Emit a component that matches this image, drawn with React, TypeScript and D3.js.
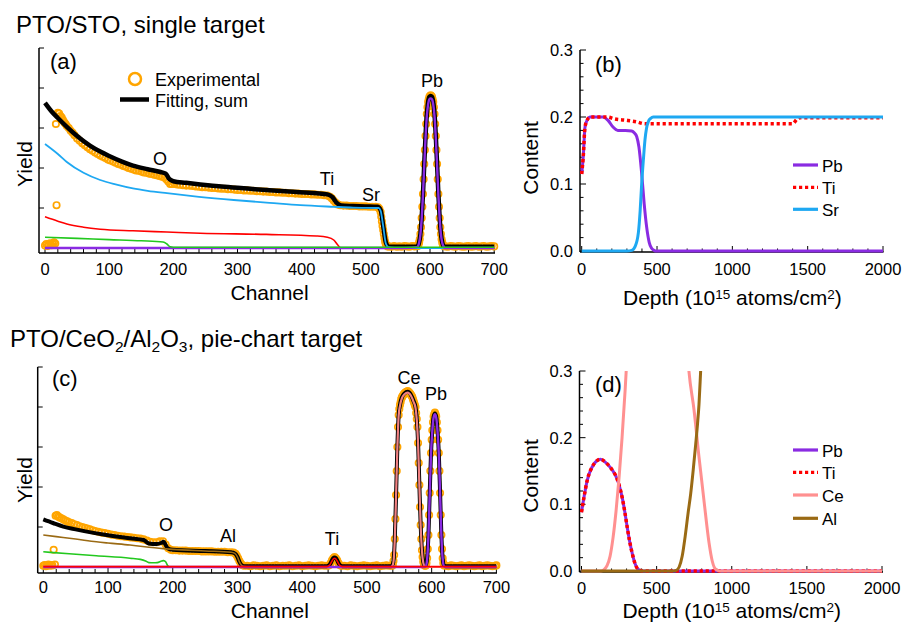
import React from "react";
import * as d3 from "d3";

type P = [number, number];

const FONT = "'Liberation Sans', Arial, Helvetica, sans-serif";
const COL = {
  exp: "#FFA500",
  sum: "#000000",
  sr: "#1EA8F2",
  ti: "#FF0000",
  o: "#22C81E",
  pb: "#8A2BE2",
  ce: "#F08080",
  ceD: "#FF9090",
  al: "#9A6A14",
};

// ---------------- Panel (a): PTO/STO spectrum ----------------
const aTicksMajor = [0, 100, 200, 300, 400, 500, 600, 700];
const aSum: P[] = [
  [0, 3.63], [10, 3.42], [20, 3.25], [34, 3.03], [50, 2.8], [70, 2.56], [86, 2.41], [100, 2.3], [120, 2.16],
  [137, 2.06], [160, 1.97], [180, 1.9], [188, 1.86], [194, 1.72], [200, 1.67], [220, 1.63], [242, 1.59],
  [280, 1.53], [320, 1.48], [345, 1.45], [380, 1.41], [423, 1.37], [440, 1.34], [448, 1.27], [455, 1.12],
  [462, 1.06], [480, 1.05], [500, 1.04], [518, 1.03], [523, 0.95], [527, 0.55], [531, 0.15], [535, 0.04],
  [545, 0.03], [579, 0.03], [581, 0.05], [583, 0.14], [585, 0.35], [587, 0.75], [589, 1.35], [591, 2.1],
  [593, 2.8], [595, 3.35], [597, 3.65], [599, 3.78], [601, 3.8], [603, 3.78], [605, 3.65], [607, 3.35],
  [609, 2.8], [611, 2.1], [613, 1.35], [615, 0.75], [617, 0.35], [619, 0.14], [621, 0.05], [623, 0.03], [700, 0.03],
];
const aSr: P[] = [
  [0, 2.6], [20, 2.35], [34, 2.15], [60, 1.88], [86, 1.7], [110, 1.59], [137, 1.49], [160, 1.43], [190, 1.37],
  [240, 1.28], [294, 1.2], [350, 1.13], [398, 1.07], [450, 1.03], [480, 1.01], [520, 1.0], [523, 0.93],
  [527, 0.55], [531, 0.12], [535, 0.02], [545, 0], [700, 0],
];
const aTi: P[] = [
  [0, 0.78], [20, 0.67], [34, 0.6], [60, 0.52], [86, 0.47], [137, 0.43], [190, 0.4], [242, 0.37], [345, 0.34],
  [423, 0.3], [440, 0.27], [450, 0.2], [456, 0.08], [460, 0.01], [462, 0],
];
const aO: P[] = [
  [0, 0.27], [50, 0.24], [100, 0.21], [150, 0.18], [184, 0.15], [190, 0.1], [195, 0.03], [200, 0.02], [700, 0.02],
];
const aPb: P[] = [
  [0, 0], [560, 0], [579, 0.02], [581, 0.04], [583, 0.13], [585, 0.34], [587, 0.73], [589, 1.32], [591, 2.06],
  [593, 2.75], [595, 3.29], [597, 3.59], [599, 3.72], [601, 3.74], [603, 3.72], [605, 3.59], [607, 3.29],
  [609, 2.75], [611, 2.06], [613, 1.32], [615, 0.73], [617, 0.34], [619, 0.13], [621, 0.04], [623, 0], [700, 0],
];
const aExp: P[] = [
  [0, 0.06], [2, 0.1], [4, 0.05], [6, 0.09], [8, 0.12], [10, 0.07], [12, 0.1], [14, 0.14], [16, 0.11], [17, 3.1], [18, 1.07],
  [20, 3.38], [22, 3.36], [24, 3.3], [26, 3.26], [28, 3.2], [30, 3.14], [32, 3.1], [34, 3.05], [37, 3.0], [40, 2.93],
  [43, 2.88], [46, 2.82], [50, 2.74], [54, 2.68], [58, 2.62], [62, 2.57], [66, 2.52], [70, 2.47], [74, 2.43], [78, 2.39],
  [82, 2.35], [86, 2.31], [90, 2.28], [94, 2.25], [98, 2.21], [102, 2.19], [106, 2.16], [110, 2.13], [114, 2.1],
  [118, 2.08], [122, 2.05], [126, 2.03], [130, 2.0], [134, 1.98], [138, 1.96], [142, 1.94], [146, 1.93], [150, 1.91],
  [154, 1.89], [158, 1.88], [162, 1.86], [166, 1.85], [170, 1.83], [174, 1.82], [178, 1.8], [182, 1.78], [186, 1.76],
  [189, 1.72], [192, 1.66], [195, 1.6], [198, 1.6], [202, 1.6], [206, 1.59], [210, 1.58], [215, 1.57], [220, 1.56],
  [225, 1.56], [230, 1.55], [235, 1.54], [240, 1.53], [245, 1.52], [250, 1.52], [255, 1.51], [260, 1.5], [265, 1.5],
  [270, 1.49], [275, 1.48], [280, 1.48], [285, 1.47], [290, 1.47], [295, 1.46], [300, 1.45], [305, 1.45], [310, 1.44],
  [315, 1.44], [320, 1.43], [325, 1.43], [330, 1.42], [335, 1.42], [340, 1.41], [345, 1.41], [350, 1.4], [355, 1.4],
  [360, 1.39], [365, 1.39], [370, 1.38], [375, 1.38], [380, 1.37], [385, 1.37], [390, 1.36], [395, 1.36], [400, 1.35],
  [405, 1.35], [410, 1.35], [415, 1.34], [420, 1.34], [425, 1.33], [430, 1.33], [435, 1.32], [440, 1.31], [444, 1.28],
  [447, 1.24], [450, 1.18], [453, 1.13], [456, 1.09], [460, 1.07], [465, 1.06], [470, 1.06], [475, 1.05], [480, 1.05],
  [485, 1.05], [490, 1.04], [495, 1.04], [500, 1.04], [505, 1.03], [510, 1.03], [515, 1.03], [519, 1.02], [521, 0.98],
  [523, 0.9], [524, 0.78], [525, 0.66], [526, 0.55], [527, 0.45], [528, 0.35], [529, 0.25], [530, 0.16], [531, 0.1],
  [532, 0.06], [534, 0.04], [536, 0.04], [540, 0.03], [544, 0.05], [548, 0.03], [552, 0.04], [556, 0.03], [560, 0.05],
  [564, 0.04], [568, 0.03], [572, 0.05], [576, 0.04], [580, 0.05],
  [581, 0.05], [582, 0.08], [583, 0.14], [584, 0.22], [585, 0.35], [586, 0.52], [587, 0.75], [588, 1.03], [589, 1.35],
  [590, 1.72], [591, 2.1], [592, 2.45], [593, 2.8], [594, 3.1], [595, 3.35], [596, 3.52], [597, 3.65], [598, 3.72],
  [599, 3.78], [600, 3.8], [601, 3.82], [602, 3.8], [603, 3.78], [604, 3.72], [605, 3.65], [606, 3.52], [607, 3.35],
  [608, 3.1], [609, 2.8], [610, 2.45], [611, 2.1], [612, 1.72], [613, 1.35], [614, 1.03], [615, 0.75], [616, 0.52],
  [617, 0.35], [618, 0.22], [619, 0.14], [620, 0.08], [621, 0.05],
  [624, 0.04], [628, 0.03], [632, 0.05], [636, 0.04], [640, 0.03], [644, 0.05], [648, 0.04], [652, 0.03], [656, 0.04],
  [660, 0.05], [664, 0.03], [668, 0.04], [672, 0.05], [676, 0.03], [680, 0.04], [684, 0.05], [688, 0.03], [692, 0.04],
  [696, 0.05], [700, 0.04],
];

// ---------------- Panel (b): PTO/STO depth profile ----------------
const depthTicksMajor = [0, 500, 1000, 1500, 2000];
const contentTicksMajor = [0, 0.1, 0.2, 0.3];
const bPb: P[] = [
  [0, 0.115], [10, 0.14], [22, 0.185], [40, 0.197], [55, 0.2], [100, 0.2], [142, 0.2], [175, 0.195], [208, 0.185],
  [240, 0.18], [290, 0.18], [332, 0.179], [350, 0.176], [365, 0.171], [380, 0.155], [398, 0.116], [415, 0.07],
  [431, 0.036], [448, 0.013], [464, 0.004], [480, 0.001], [497, 0], [2000, 0],
];
const bTi: P[] = [
  [0, 0.115], [10, 0.14], [22, 0.185], [40, 0.197], [55, 0.2], [100, 0.2], [170, 0.2], [220, 0.197], [300, 0.195],
  [360, 0.193], [420, 0.19], [450, 0.19], [1400, 0.19], [1430, 0.197], [1450, 0.199], [2000, 0.199],
];
const bSr: P[] = [
  [0, 0], [300, 0], [332, 0.001], [355, 0.007], [376, 0.027], [388, 0.06], [398, 0.1], [410, 0.138], [420, 0.166],
  [430, 0.183], [442, 0.193], [458, 0.198], [475, 0.2], [2000, 0.2],
];

// ---------------- Panel (c): PTO/CeO2/Al2O3 spectrum ----------------
const cSum: P[] = [
  [0, 1.19], [15, 1.1], [31, 1.01], [50, 0.94], [82, 0.84], [110, 0.77], [134, 0.72], [155, 0.675], [159, 0.63],
  [163, 0.59], [175, 0.575], [182, 0.6], [186, 0.63], [189, 0.55], [192, 0.47], [200, 0.43], [250, 0.4], [290, 0.37],
  [296, 0.34], [300, 0.25], [303, 0.13], [306, 0.05], [310, 0.02], [438, 0.02], [440, 0.03], [442, 0.05], [444, 0.1],
  [446, 0.17], [448, 0.22], [450, 0.24], [452, 0.22], [454, 0.17], [456, 0.1], [458, 0.05], [460, 0.03], [462, 0.02],
  [537, 0.02], [539, 0.04], [541, 0.15], [543, 0.7], [545, 1.8], [547, 3.0], [549, 3.8], [551, 4.05], [554, 4.24],
  [558, 4.34], [563, 4.38], [568, 4.3], [572, 4.15], [575, 4.0], [577, 3.7], [579, 3.1], [581, 2.05], [583, 1.05],
  [585, 0.42], [587, 0.13], [589, 0.04], [591, 0.04], [593, 0.22], [595, 0.8], [597, 1.85], [599, 2.85], [601, 3.42],
  [603, 3.76], [605, 3.84], [607, 3.76], [609, 3.42], [611, 2.85], [613, 1.85], [615, 0.8], [617, 0.22], [619, 0.04],
  [622, 0.02], [700, 0.02],
];
const cAl: P[] = [
  [0, 0.8], [20, 0.76], [50, 0.7], [82, 0.63], [100, 0.6], [134, 0.55], [150, 0.52], [185, 0.46], [200, 0.44],
  [250, 0.4], [290, 0.37], [296, 0.34], [300, 0.25], [303, 0.13], [306, 0.05], [310, 0.01], [320, 0], [700, 0],
];
const cO: P[] = [
  [0, 0.38], [40, 0.33], [82, 0.28], [134, 0.22], [150, 0.19], [158, 0.15], [163, 0.11], [170, 0.105], [176, 0.11],
  [183, 0.15], [186, 0.16], [189, 0.13], [192, 0.04], [195, 0.005], [200, 0],
];
const cTi: P[] = [
  [0, 0.01], [438, 0.01], [440, 0.02], [442, 0.04], [444, 0.09], [446, 0.15], [448, 0.2], [450, 0.22], [452, 0.2],
  [454, 0.15], [456, 0.09], [458, 0.04], [460, 0.02], [462, 0.01], [700, 0.01],
];
const cCe: P[] = [
  [0, 0], [537, 0], [539, 0.02], [541, 0.13], [543, 0.68], [545, 1.78], [547, 2.98], [549, 3.78], [551, 4.03],
  [554, 4.22], [558, 4.32], [563, 4.36], [568, 4.28], [572, 4.13], [575, 3.98], [577, 3.68], [579, 3.08], [581, 2.03],
  [583, 1.03], [585, 0.4], [587, 0.11], [589, 0.02], [591, 0], [700, 0],
];
const cPb: P[] = [
  [0, 0], [589, 0], [591, 0.02], [593, 0.2], [595, 0.78], [597, 1.83], [599, 2.83], [601, 3.4], [603, 3.74],
  [605, 3.82], [607, 3.74], [609, 3.4], [611, 2.83], [613, 1.83], [615, 0.78], [617, 0.2], [619, 0.02], [621, 0], [700, 0],
];
const cExp: P[] = [
  [0, 0.03], [2, 0.05], [4, 0.02], [6, 0.04], [8, 0.06], [10, 0.03], [12, 0.05], [14, 0.04], [16, 0.43], [18, 0.06],
  [19, 1.28], [21, 1.3], [23, 1.26], [25, 1.24], [28, 1.22], [31, 1.19], [34, 1.16], [37, 1.14], [40, 1.12], [44, 1.1],
  [48, 1.07], [52, 1.05], [56, 1.02], [60, 1.0], [64, 0.98], [68, 0.96], [72, 0.94], [76, 0.92], [80, 0.9], [85, 0.88],
  [90, 0.86], [95, 0.85], [100, 0.83], [105, 0.81], [110, 0.8], [115, 0.78], [120, 0.77], [125, 0.76], [130, 0.75],
  [135, 0.74], [140, 0.73], [145, 0.72], [150, 0.71], [155, 0.69], [160, 0.66], [165, 0.63], [170, 0.62], [175, 0.62],
  [180, 0.64], [185, 0.64], [189, 0.56], [193, 0.47], [197, 0.43], [200, 0.42], [205, 0.42], [210, 0.41], [215, 0.41],
  [220, 0.41], [225, 0.4], [230, 0.4], [235, 0.4], [240, 0.4], [245, 0.39], [250, 0.39], [255, 0.39], [260, 0.39],
  [265, 0.38], [270, 0.38], [275, 0.38], [280, 0.38], [285, 0.37], [290, 0.37], [294, 0.36], [297, 0.33], [299, 0.28],
  [301, 0.22], [303, 0.15], [305, 0.09], [307, 0.05], [310, 0.03],
  [315, 0.03], [320, 0.02], [325, 0.04], [330, 0.03], [335, 0.02], [340, 0.03], [345, 0.04], [350, 0.02], [355, 0.03],
  [360, 0.04], [365, 0.02], [370, 0.03], [375, 0.03], [380, 0.04], [385, 0.02], [390, 0.03], [395, 0.04], [400, 0.02],
  [405, 0.03], [410, 0.04], [415, 0.03], [420, 0.02], [425, 0.03], [430, 0.04], [435, 0.03],
  [440, 0.03], [442, 0.05], [444, 0.1], [446, 0.17], [448, 0.22], [450, 0.25], [452, 0.22], [454, 0.17], [456, 0.1],
  [458, 0.05], [460, 0.03],
  [465, 0.03], [470, 0.02], [475, 0.04], [480, 0.03], [485, 0.02], [490, 0.03], [495, 0.04], [500, 0.03], [505, 0.02],
  [510, 0.03], [515, 0.04], [520, 0.02], [525, 0.03], [530, 0.04], [535, 0.03],
  [539, 0.03], [540, 0.05], [541, 0.15], [542, 0.3], [543, 0.7], [544, 1.2], [545, 1.8], [546, 2.4], [547, 3.0],
  [548, 3.5], [549, 3.8], [550, 3.95], [551, 4.05], [552, 4.12], [553, 4.2], [554, 4.24], [555, 4.27], [556, 4.3],
  [557, 4.32], [558, 4.34], [559, 4.35], [560, 4.37], [561, 4.38], [562, 4.38], [563, 4.4], [564, 4.38], [565, 4.37],
  [566, 4.35], [567, 4.33], [568, 4.3], [569, 4.28], [570, 4.25], [571, 4.2], [572, 4.15], [573, 4.1], [574, 4.05],
  [575, 4.0], [576, 3.85], [577, 3.7], [578, 3.5], [579, 3.1], [580, 2.6], [581, 2.05], [582, 1.5], [583, 1.05],
  [584, 0.7], [585, 0.42], [586, 0.25], [587, 0.13], [588, 0.06], [589, 0.04], [590, 0.03],
  [591, 0.04], [592, 0.1], [593, 0.22], [594, 0.45], [595, 0.8], [596, 1.3], [597, 1.85], [598, 2.4], [599, 2.85],
  [600, 3.18], [601, 3.42], [602, 3.62], [603, 3.76], [604, 3.82], [605, 3.86], [606, 3.82], [607, 3.76], [608, 3.62],
  [609, 3.42], [610, 3.18], [611, 2.85], [612, 2.4], [613, 1.85], [614, 1.3], [615, 0.8], [616, 0.45], [617, 0.22],
  [618, 0.1], [619, 0.04],
  [622, 0.03], [626, 0.02], [630, 0.04], [634, 0.03], [638, 0.02], [642, 0.03], [646, 0.04], [650, 0.02], [654, 0.03],
  [658, 0.04], [662, 0.03], [666, 0.02], [670, 0.03], [674, 0.04], [678, 0.02], [682, 0.03], [686, 0.04], [690, 0.03],
  [694, 0.02], [698, 0.03], [700, 0.04],
];

// ---------------- Panel (d): PTO/CeO2/Al2O3 depth profile ----------------
const dPb: P[] = [
  [0, 0.088], [20, 0.115], [38, 0.136], [71, 0.156], [100, 0.165], [127, 0.1675], [160, 0.163], [200, 0.153],
  [237, 0.138], [255, 0.125], [271, 0.11], [288, 0.089], [304, 0.066], [320, 0.045], [338, 0.026], [355, 0.012],
  [371, 0.004], [390, 0.001], [410, 0], [2000, 0],
];
const dTi: P[] = [
  [0, 0.088], [20, 0.115], [38, 0.136], [71, 0.156], [100, 0.165], [127, 0.1675], [160, 0.163], [200, 0.153],
  [237, 0.138], [255, 0.125], [271, 0.11], [288, 0.089], [304, 0.066], [320, 0.045], [338, 0.026], [355, 0.012],
  [371, 0.004], [390, 0.001], [410, 0], [2000, 0],
];
const dCe: P[] = [
  [0, 0], [130, 0], [150, 0.002], [170, 0.008], [190, 0.022], [210, 0.05], [230, 0.09], [250, 0.14], [270, 0.2],
  [290, 0.27], [305, 0.33], [330, 0.42], [400, 0.55], [520, 0.6], [640, 0.52], [690, 0.38], [715, 0.3], [749, 0.2415],
  [782, 0.171], [815, 0.106], [849, 0.042], [870, 0.015], [885, 0.005], [905, 0.001], [925, 0], [2000, 0],
];
const dAl: P[] = [
  [0, 0], [600, 0], [630, 0.001], [650, 0.006], [670, 0.022], [690, 0.052], [710, 0.088], [727, 0.1165], [745, 0.155],
  [760, 0.19], [772, 0.22], [782, 0.25], [793, 0.3], [810, 0.38],
];

// ---------------- helpers ----------------
const mkLine = (xs: d3.ScaleLinear<number, number>, ys: d3.ScaleLinear<number, number>) =>
  d3.line<P>().x((d) => xs(d[0])).y((d) => ys(d[1])).curve(d3.curveMonotoneX);

const Txt = (props: any) => <text fontFamily={FONT} fill="#000" {...props} />;

function SpectrumAxes({ xs, ys, x0, x1, y0, y1, xLabelY, tickLabelY, yLabelX, yLabelY }: any) {
  const minor = d3.range(0, 701, 20);
  const yt = [1, 2, 3, 4, 5];
  return (
    <g>
      <line x1={x0} x2={x0} y1={y0} y2={y1} stroke="#000" strokeWidth={1.5} />
      <line x1={x0} x2={x1} y1={y1} y2={y1} stroke="#000" strokeWidth={1.5} />
      {minor.map((v) => (
        <line key={"m" + v} x1={xs(v)} x2={xs(v)} y1={y1} y2={y1 - (v % 100 === 0 ? 6 : 4)} stroke="#000" strokeWidth={1} />
      ))}
      {yt.map((v) => (
        <line key={"y" + v} x1={x0} x2={x0 + 5} y1={ys(v)} y2={ys(v)} stroke="#000" strokeWidth={1} />
      ))}
      {aTicksMajor.map((v) => (
        <Txt key={"l" + v} x={xs(v)} y={tickLabelY} fontSize={16.5} textAnchor="middle">{v}</Txt>
      ))}
      <Txt x={(xs(0) + xs(700)) / 2} y={xLabelY} fontSize={21} textAnchor="middle">Channel</Txt>
      <Txt transform={`translate(${yLabelX},${yLabelY}) rotate(-90)`} fontSize={21} textAnchor="middle">Yield</Txt>
    </g>
  );
}

function DepthAxes({ xs, ys, x0, x1, y0, y1, tickLabelY, xLabelY, yLabelX, yLabelY }: any) {
  const xminor = d3.range(0, 2001, 100);
  const yminor = d3.range(0, 16).map((i) => i * 0.02);
  return (
    <g>
      <line x1={x0} x2={x0} y1={y0} y2={y1} stroke="#000" strokeWidth={1.5} />
      <line x1={x0} x2={x1} y1={y1} y2={y1} stroke="#000" strokeWidth={1.5} />
      {xminor.map((v) => (
        <line key={"x" + v} x1={xs(v)} x2={xs(v)} y1={y1} y2={y1 - (v % 500 === 0 ? 6 : 3.5)} stroke="#000" strokeWidth={1} />
      ))}
      {yminor.map((v, i) => (
        <line key={"y" + i} x1={x0} x2={x0 + (i % 5 === 0 ? 6 : 3.5)} y1={ys(v)} y2={ys(v)} stroke="#000" strokeWidth={1} />
      ))}
      {depthTicksMajor.map((v) => (
        <Txt key={"dl" + v} x={xs(v)} y={tickLabelY} fontSize={16.5} textAnchor="middle">{v}</Txt>
      ))}
      {contentTicksMajor.map((v) => (
        <Txt key={"cl" + v} x={x0 - 7} y={ys(v) + 6} fontSize={16.5} textAnchor="end">{v.toFixed(1)}</Txt>
      ))}
      <Txt x={(xs(0) + xs(2000)) / 2} y={xLabelY} fontSize={21} textAnchor="middle">
        Depth (10<tspan fontSize={13.5} dy={-6}>15</tspan><tspan dy={6}> atoms/cm</tspan><tspan fontSize={13.5} dy={-6}>2</tspan><tspan dy={6}>)</tspan>
      </Txt>
      <Txt transform={`translate(${yLabelX},${yLabelY}) rotate(-90)`} fontSize={21} textAnchor="middle">Content</Txt>
    </g>
  );
}

function ExpPoints({ data, xs, ys }: any) {
  return (
    <g>
      {data.map((d: P, i: number) => (
        <circle key={i} cx={xs(d[0])} cy={ys(d[1])} r={3.2} fill="none" stroke={COL.exp} strokeWidth={1.7} />
      ))}
    </g>
  );
}

function DepthLegend({ items, x, ys0 }: any) {
  return (
    <g>
      {items.map((it: any, i: number) => (
        <g key={it.name}>
          <line x1={x} x2={x + 25} y1={ys0[i]} y2={ys0[i]} stroke={it.color} strokeWidth={3.2}
            strokeDasharray={it.dash || undefined} />
          <Txt x={x + 29} y={ys0[i] + 6.5} fontSize={17}>{it.name}</Txt>
        </g>
      ))}
    </g>
  );
}

export default function App() {
  // (a)
  const xA = d3.scaleLinear().domain([0, 700]).range([45, 494.2]);
  const yA = d3.scaleLinear().domain([0, 5]).range([248, 48]);
  const lA = mkLine(xA, yA);
  // (b)
  const xB = d3.scaleLinear().domain([0, 2000]).range([581.7, 883]);
  const yB = d3.scaleLinear().domain([0, 0.3]).range([251, 50]);
  const lB = mkLine(xB, yB);
  // (c)
  const xC = d3.scaleLinear().domain([0, 700]).range([43.3, 496.4]);
  const yC = d3.scaleLinear().domain([0, 5]).range([567, 367]);
  const lC = mkLine(xC, yC);
  // (d)
  const xD = d3.scaleLinear().domain([0, 2000]).range([581.5, 882]);
  const yD = d3.scaleLinear().domain([0, 0.3]).range([571, 371]);
  const lD = mkLine(xD, yD);

  return (
    <svg width={904} height={624} viewBox="0 0 904 624"
      style={{ position: "absolute", left: 0, top: 0, background: "#fff" }}>
      <defs>
        <clipPath id="clipB"><rect x={580} y={50} width={305} height={205} /></clipPath>
        <clipPath id="clipD"><rect x={580} y={371} width={305} height={205} /></clipPath>
      </defs>

      {/* ---------- Panel (a) ---------- */}
      <Txt x={16} y={33} fontSize={24}>PTO/STO, single target</Txt>
      <SpectrumAxes xs={xA} ys={yA} x0={39} x1={495} y0={48} y1={253} tickLabelY={275} xLabelY={300} yLabelX={31.5} yLabelY={164} />
      <ExpPoints data={aExp} xs={xA} ys={yA} />
      <path d={lA(aSum) || ""} fill="none" stroke={COL.sum} strokeWidth={4.5} strokeLinejoin="round" />
      <path d={lA(aSr) || ""} fill="none" stroke={COL.sr} strokeWidth={1.8} />
      <path d={lA(aTi) || ""} fill="none" stroke={COL.ti} strokeWidth={1.6} />
      <path d={lA(aPb) || ""} fill="none" stroke={COL.pb} strokeWidth={2.4} />
      <path d={lA(aO) || ""} fill="none" stroke={COL.o} strokeWidth={1.6} />
      <Txt x={50} y={69} fontSize={22}>(a)</Txt>
      <circle cx={135} cy={79} r={6} fill="none" stroke={COL.exp} strokeWidth={2.5} />
      <Txt x={155} y={86} fontSize={18}>Experimental</Txt>
      <line x1={120} x2={149} y1={99.5} y2={99.5} stroke="#000" strokeWidth={4.5} />
      <Txt x={155} y={107} fontSize={18}>Fitting, sum</Txt>
      <Txt x={160} y={165} fontSize={18} textAnchor="middle">O</Txt>
      <Txt x={327} y={185} fontSize={18} textAnchor="middle">Ti</Txt>
      <Txt x={371} y={201} fontSize={18} textAnchor="middle">Sr</Txt>
      <Txt x={432} y={87} fontSize={18} textAnchor="middle">Pb</Txt>

      {/* ---------- Panel (b) ---------- */}
      <DepthAxes xs={xB} ys={yB} x0={580} x1={883.5} y0={50} y1={252} tickLabelY={275} xLabelY={305} yLabelX={538} yLabelY={158} />
      <g clipPath="url(#clipB)">
        <path d={lB(bPb) || ""} fill="none" stroke={COL.pb} strokeWidth={3} />
        <path d={lB(bTi) || ""} fill="none" stroke={COL.ti} strokeWidth={3.5} strokeDasharray="3.2 2.8" />
        <path d={lB(bSr) || ""} fill="none" stroke={COL.sr} strokeWidth={3} />
      </g>
      <Txt x={595} y={72} fontSize={22}>(b)</Txt>
      <DepthLegend x={793} ys0={[165, 187.3, 209.3]}
        items={[{ name: "Pb", color: COL.pb }, { name: "Ti", color: COL.ti, dash: "3.2 2.8" }, { name: "Sr", color: COL.sr }]} />

      {/* ---------- Panel (c) ---------- */}
      <Txt x={10} y={347} fontSize={24}>
        PTO/CeO<tspan fontSize={15.5} dy={5}>2</tspan><tspan dy={-5}>/Al</tspan><tspan fontSize={15.5} dy={5}>2</tspan>
        <tspan dy={-5}>O</tspan><tspan fontSize={15.5} dy={5}>3</tspan><tspan dy={-5}>, pie-chart target</tspan>
      </Txt>
      <SpectrumAxes xs={xC} ys={yC} x0={37.7} x1={497} y0={367} y1={573} tickLabelY={593} xLabelY={618} yLabelX={31.5} yLabelY={480} />
      <ExpPoints data={cExp} xs={xC} ys={yC} />
      <path d={lC(cSum) || ""} fill="none" stroke={COL.sum} strokeWidth={4} strokeLinejoin="round" />
      <path d={lC(cAl) || ""} fill="none" stroke={COL.al} strokeWidth={1.6} />
      <path d={lC(cO) || ""} fill="none" stroke={COL.o} strokeWidth={1.6} />
      <path d={lC(cCe) || ""} fill="none" stroke={COL.ce} strokeWidth={2.2} />
      <path d={lC(cPb) || ""} fill="none" stroke={COL.pb} strokeWidth={2.4} />
      <path d={lC(cTi) || ""} fill="none" stroke={COL.ti} strokeWidth={1.6} />
      <Txt x={52} y={386} fontSize={22}>(c)</Txt>
      <Txt x={166} y={531} fontSize={18} textAnchor="middle">O</Txt>
      <Txt x={228} y={542} fontSize={18} textAnchor="middle">Al</Txt>
      <Txt x={332} y={545} fontSize={18} textAnchor="middle">Ti</Txt>
      <Txt x={409} y={384} fontSize={18} textAnchor="middle">Ce</Txt>
      <Txt x={436} y={400} fontSize={18} textAnchor="middle">Pb</Txt>

      {/* ---------- Panel (d) ---------- */}
      <DepthAxes xs={xD} ys={yD} x0={579.5} x1={883} y0={371} y1={572} tickLabelY={594} xLabelY={618} yLabelX={538} yLabelY={476} />
      <g clipPath="url(#clipD)">
        <path d={lD(dPb) || ""} fill="none" stroke={COL.pb} strokeWidth={3} />
        <path d={lD(dTi) || ""} fill="none" stroke={COL.ti} strokeWidth={3.5} strokeDasharray="3.2 2.8" />
        <path d={lD(dCe) || ""} fill="none" stroke={COL.ceD} strokeWidth={3} />
        <path d={lD(dAl) || ""} fill="none" stroke={COL.al} strokeWidth={3} />
      </g>
      <Txt x={595} y={392} fontSize={22}>(d)</Txt>
      <DepthLegend x={793} ys0={[450, 472.3, 495, 518.3]}
        items={[{ name: "Pb", color: COL.pb }, { name: "Ti", color: COL.ti, dash: "3.2 2.8" },
          { name: "Ce", color: COL.ceD }, { name: "Al", color: COL.al }]} />
    </svg>
  );
}
